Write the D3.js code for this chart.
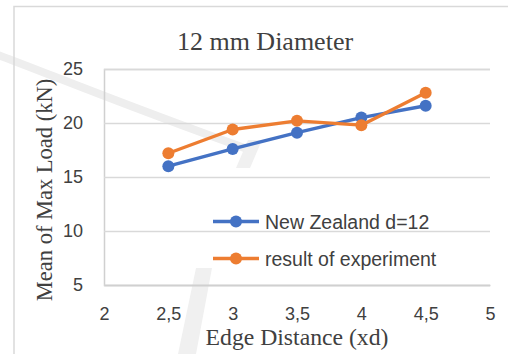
<!DOCTYPE html>
<html>
<head>
<meta charset="utf-8">
<script src="https://cdn.jsdelivr.net/npm/d3@7"></script>
<style>
  html, body { margin: 0; padding: 0; background: #fff; }
  svg { display: block; }
</style>
</head>
<body>
<svg id="chart" width="508" height="354"></svg>
<script>
// Edge distance (in multiples of bolt diameter) and mean maximum loads in kN
const edgeDistance = [2.5, 3, 3.5, 4, 4.5];
const newZealand = [16.0, 17.6, 19.1, 20.5, 21.6];
const experiment = [17.2, 19.4, 20.2, 19.8, 22.8];
const seriesNames = ["New Zealand d=12", "result of experiment"];
const seriesColors = ["#4472c4", "#ed7d31"];
const xTicks = [2, 2.5, 3, 3.5, 4, 4.5, 5];
const yTicks = [5, 10, 15, 20, 25];

const svg = d3.select("#chart");
const W = 508, H = 354;

const x = d3.scaleLinear().domain([2, 5]).range([104, 490]);
const y = d3.scaleLinear().domain([5, 25]).range([285, 69]);

const fmt = d => String(d).replace(".", ",");
const textCol = "#404040";
const sans = "'Liberation Sans', Arial, sans-serif";
const serif = "'Liberation Serif', 'Times New Roman', serif";

// faint background swoosh behind the chart
const mark = svg.append("g").attr("pointer-events", "none");
mark.append("path")
  .attr("d", "M-10,52 C40,70 110,100 250,150")
  .attr("fill", "none").attr("stroke", "#eeeeee").attr("stroke-width", 8);
mark.append("path")
  .attr("d", "M236,168 L248,140 L262,140 L250,168 Z M178,354 L196,268 L212,268 L196,354 Z")
  .attr("fill", "#f0f0f0");

// chart frame
svg.append("path")
  .attr("d", `M14,${H + 2} L14,6.5 L${W + 2},6.5`)
  .attr("fill", "none").attr("stroke", "#d9d9d9").attr("stroke-width", 1.5);

// horizontal gridlines and y axis
const yAxis = d3.axisLeft(y).tickValues(yTicks).tickSize(-(x(5) - x(2))).tickFormat(fmt).tickPadding(21);
const gy = svg.append("g").attr("transform", `translate(${x(2)},0)`).call(yAxis);
gy.select(".domain").attr("stroke", "#d0d0d0").attr("stroke-width", 1.5);
gy.selectAll(".tick line").attr("stroke", "#d9d9d9").attr("stroke-width", 1.4);
gy.selectAll(".tick text").attr("fill", textCol).style("font", `18px ${sans}`);

// x axis
const xAxis = d3.axisBottom(x).tickValues(xTicks).tickSize(0).tickFormat(fmt).tickPadding(22);
const gx = svg.append("g").attr("transform", `translate(0,${y(5)})`).call(xAxis);
gx.select(".domain").attr("stroke", "#d0d0d0").attr("stroke-width", 1.5);
gx.selectAll(".tick text").attr("fill", textCol).style("font", `18px ${sans}`);

// series lines and markers
const series = [newZealand, experiment];
const line = d3.line().x((d, i) => x(edgeDistance[i])).y(d => y(d));
series.forEach((vals, s) => {
  svg.append("path").datum(vals)
    .attr("d", line).attr("fill", "none")
    .attr("stroke", seriesColors[s]).attr("stroke-width", 3.4)
    .attr("stroke-linejoin", "round");
  svg.append("g").selectAll("circle").data(vals).join("circle")
    .attr("cx", (d, i) => x(edgeDistance[i])).attr("cy", d => y(d))
    .attr("r", 6).attr("fill", seriesColors[s]);
});

// title
svg.append("text").attr("x", 265).attr("y", 50).attr("text-anchor", "middle")
  .attr("fill", textCol).style("font", `26px ${serif}`).text("12 mm Diameter");

// axis titles
svg.append("text").attr("transform", "translate(52,190) rotate(-90)")
  .attr("text-anchor", "middle").attr("fill", textCol)
  .style("font", `22.5px ${serif}`).text("Mean of Max Load (kN)");
svg.append("text").attr("x", 297).attr("y", 345).attr("text-anchor", "middle")
  .attr("fill", textCol).style("font", `23.7px ${serif}`).text("Edge Distance (xd)");

// legend
const legend = svg.append("g");
seriesNames.forEach((name, s) => {
  const cy = 221.5 + s * 37;
  legend.append("line").attr("x1", 213).attr("x2", 259).attr("y1", cy).attr("y2", cy)
    .attr("stroke", seriesColors[s]).attr("stroke-width", 3.4);
  legend.append("circle").attr("cx", 236).attr("cy", cy).attr("r", 6).attr("fill", seriesColors[s]);
  legend.append("text").attr("x", 265).attr("y", cy + 7.5).attr("fill", textCol)
    .style("font", `19.5px ${sans}`).text(name);
});
</script>
</body>
</html>
